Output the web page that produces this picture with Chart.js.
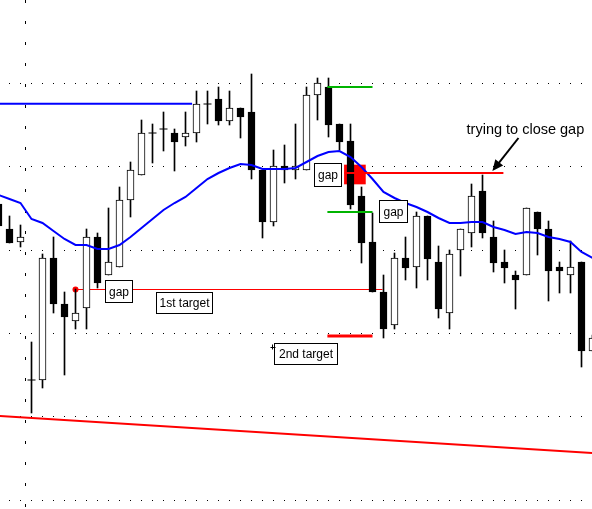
<!DOCTYPE html>
<html>
<head>
<meta charset="utf-8">
<title>gap chart</title>
<script src="https://cdn.jsdelivr.net/npm/chart.js@4"></script>
<style>
  html, body { margin: 0; padding: 0; background: #fff; }
  canvas { display: block; }
</style>
</head>
<body>
<canvas id="chart" width="592" height="509"></canvas>
<script>
// candles, left to right (the first and the last are cut by the edges)
const opens = [
  135.52, 132.52, 130.96, 114.40, 114.40, 129.04, 123.52, 121.48, 123.04, 131.56,
  127.00, 127.96, 136.00, 139.00, 144.04, 144.52, 144.04, 143.56, 144.04, 147.52,
  148.12, 145.48, 147.04, 146.56, 139.60, 133.36, 140.08, 139.60, 139.60, 148.60,
  149.56, 145.12, 143.08, 136.48, 130.96, 124.96, 121.00, 129.04, 127.96, 134.08,
  128.56, 122.44, 130.00, 132.04, 137.08, 131.56, 128.56, 127.00, 127.00, 134.56,
  132.52, 127.96, 127.00, 128.56, 117.88
];
const highs = [
  136.00, 134.08, 133.00, 118.96, 129.52, 131.56, 124.96, 125.32, 132.52, 132.04,
  135.04, 137.56, 140.56, 145.60, 145.12, 146.56, 144.52, 146.56, 149.08, 149.08,
  149.56, 149.08, 147.04, 151.12, 139.60, 142.00, 142.60, 145.12, 149.56, 150.64,
  150.64, 145.12, 145.12, 137.56, 134.44, 127.00, 129.64, 131.56, 134.56, 134.08,
  130.48, 130.00, 132.52, 137.92, 139.00, 133.48, 130.00, 127.48, 135.04, 134.56,
  133.48, 128.56, 131.08, 128.56, 119.80
];
const lows = [
  132.64, 130.84, 130.36, 110.44, 113.44, 122.44, 115.00, 120.52, 120.52, 125.44,
  127.00, 127.96, 133.96, 139.00, 140.44, 141.88, 139.48, 142.48, 142.96, 145.12,
  145.00, 145.00, 143.44, 138.52, 131.44, 132.88, 138.04, 138.52, 139.60, 145.60,
  143.56, 142.00, 134.92, 128.44, 124.96, 119.44, 120.52, 126.40, 125.44, 126.40,
  121.84, 120.52, 126.88, 130.36, 131.44, 127.36, 126.04, 122.92, 127.00, 129.40,
  123.88, 124.84, 124.84, 115.96, 117.88
];
const closes = [
  132.88, 130.84, 131.56, 114.40, 129.04, 123.52, 121.96, 122.44, 131.56, 126.04,
  128.56, 136.00, 139.60, 144.04, 144.04, 144.52, 142.96, 144.04, 147.52, 147.52,
  145.48, 147.04, 145.96, 139.60, 133.36, 140.08, 139.60, 140.08, 148.60, 150.04,
  145.00, 142.96, 135.40, 130.84, 124.96, 120.52, 129.04, 127.84, 134.08, 128.92,
  122.92, 129.52, 132.52, 136.48, 132.04, 128.44, 127.84, 126.40, 135.04, 132.52,
  127.48, 127.48, 127.96, 117.88, 119.44
];
// moving average (blue)
const movingAvg = [
  136.60, 136.12, 135.64, 133.72, 133.24, 132.28, 131.32, 130.60, 130.60, 130.12,
  130.12, 130.60, 131.56, 132.64, 133.72, 134.80, 135.64, 136.36, 137.44, 138.52,
  139.24, 139.84, 140.32, 140.20, 139.72, 139.72, 139.72, 139.84, 140.56, 141.28,
  141.76, 141.88, 141.16, 139.96, 138.52, 136.96, 136.24, 135.64, 135.16, 134.56,
  133.84, 133.24, 133.24, 133.36, 133.36, 132.76, 132.40, 131.92, 132.16, 132.04,
  131.56, 131.32, 130.96, 129.76, 129.04
];
const barIndex = opens.map((_, i) => i - 1);

// levels: [from bar, to bar, price]
const oldLevel = [-1, 16.6, 147.56];
const firstTarget = [6, 33.9, 125.26];
const secondTarget = [28.9, 33.0, 119.68];
const gapClose = [30.45, 44.9, 139.24];
const greenTop = [28.9, 33.0, 149.56];
const greenBottom = [28.9, 33.0, 134.56];
const trendStart = [-1, 110.08];
const trendEnd = [53, 105.63];
const gapZone = [31.4, 137.92, 140.2];

const gridPrices = [100, 110, 120, 130, 140, 150];
const gridBars = [1.43];

const boxes = [
  { text: 'gap', x0: 8.64, x1: 11.18, top: 126.4, bottom: 123.76 },
  { text: '1st target', x0: 13.36, x1: 18.45, top: 124.96, bottom: 122.44 },
  { text: '2nd target', x0: 24.09, x1: 29.73, top: 118.84, bottom: 116.32 },
  { text: 'gap', x0: 27.64, x1: 30.18, top: 140.44, bottom: 137.68 },
  { text: 'gap', x0: 33.55, x1: 36.18, top: 136.0, bottom: 133.36 }
];

const seg = (a) => [{ x: a[0], y: a[2] }, { x: a[1], y: a[2] }];
const up = closes.map((c, i) => c >= opens[i]);
const dojis = barIndex.filter((k, i) => opens[i] === closes[i]).map(k => ({ x: k, y: opens[k + 1] }));

const notes = {
  id: 'notes',
  afterDatasetsDraw(chart) {
    const { ctx, scales: { x, y } } = chart;
    const px = v => Math.round(x.getPixelForValue(v)) + 0.5;
    const py = v => Math.round(y.getPixelForValue(v)) + 0.5;
    ctx.save();
    ctx.font = '12px "Liberation Sans", Arial, sans-serif';
    ctx.textAlign = 'center';
    ctx.textBaseline = 'middle';
    boxes.forEach(b => {
      const l = px(b.x0), r = px(b.x1), t = py(b.top), bt = py(b.bottom);
      ctx.fillStyle = '#fff';
      ctx.fillRect(l, t, r - l, bt - t);
      ctx.strokeStyle = '#000';
      ctx.lineWidth = 1;
      ctx.strokeRect(l, t, r - l, bt - t);
      ctx.fillStyle = '#000';
      ctx.fillText(b.text, (l + r) / 2, (t + bt) / 2 + 1);
    });

    // small cross left of "2nd target"
    const cx = px(23.82), cy = py(118.36);
    ctx.beginPath();
    ctx.moveTo(cx - 2, cy); ctx.lineTo(cx + 3, cy);
    ctx.moveTo(cx, cy - 3); ctx.lineTo(cx, cy + 2);
    ctx.stroke();

    ctx.font = '14.5px "Liberation Sans", Arial, sans-serif';
    ctx.textAlign = 'left';
    ctx.fillText('trying to close gap', x.getPixelForValue(41.55), y.getPixelForValue(144.4));

    // arrow
    const x1 = x.getPixelForValue(46.27), y1 = y.getPixelForValue(143.44);
    const x2 = x.getPixelForValue(43.9), y2 = y.getPixelForValue(139.48);
    const ang = Math.atan2(y2 - y1, x2 - x1);
    ctx.lineWidth = 2;
    ctx.beginPath();
    ctx.moveTo(x1, y1);
    ctx.lineTo(x2 - 6 * Math.cos(ang), y2 - 6 * Math.sin(ang));
    ctx.stroke();
    ctx.beginPath();
    ctx.moveTo(x2, y2);
    ctx.lineTo(x2 - 11 * Math.cos(ang) + 5 * Math.sin(ang), y2 - 11 * Math.sin(ang) - 5 * Math.cos(ang));
    ctx.lineTo(x2 - 11 * Math.cos(ang) - 5 * Math.sin(ang), y2 - 11 * Math.sin(ang) + 5 * Math.cos(ang));
    ctx.closePath();
    ctx.fill();
    ctx.restore();
  }
};

const line = (data, color, width, order) => ({
  type: 'line', data, borderColor: color, borderWidth: width,
  pointRadius: 0, tension: 0, order
});

new Chart(document.getElementById('chart'), {
  type: 'bar',
  data: {
    datasets: [
      {
        data: [{ x: gapZone[0], y: [gapZone[1], gapZone[2]] }],
        backgroundColor: '#ff0000', barThickness: 21, grouped: false, order: 10
      },
      Object.assign(line(seg(firstTarget), '#ff0000', 1, 9), {
        pointRadius: [3, 0], pointBackgroundColor: '#ff0000', pointBorderWidth: 0
      }),
      {
        data: barIndex.map((k, i) => ({ x: k, y: [lows[i], highs[i]] })),
        backgroundColor: '#000', barThickness: 1, grouped: false, order: 8
      },
      {
        data: barIndex.map((k, i) => ({ x: k, y: [opens[i], closes[i]] })),
        backgroundColor: up.map(u => u ? '#fff' : '#000'),
        borderColor: '#000', borderWidth: 1, borderSkipped: false,
        barThickness: 7, grouped: false, order: 7
      },
      {
        type: 'line', data: dojis, showLine: false, pointStyle: 'line',
        pointRadius: 4, borderColor: '#000', borderWidth: 1, order: 6
      },
      line(barIndex.map((k, i) => ({ x: k, y: movingAvg[i] })), '#0000ff', 2, 5),
      line(seg(oldLevel), '#0000ff', 2, 4),
      line([{ x: trendStart[0], y: trendStart[1] }, { x: trendEnd[0], y: trendEnd[1] }], '#ff0000', 2, 4),
      line(seg(gapClose), '#ff0000', 2, 4),
      line(seg(secondTarget), '#ff0000', 3, 3),
      line(seg(greenTop), '#00b400', 2, 3),
      line(seg(greenBottom), '#00b400', 2, 3)
    ]
  },
  options: {
    responsive: false,
    animation: false,
    layout: { padding: 0, autoPadding: false },
    plugins: { legend: { display: false }, tooltip: { enabled: false } },
    scales: {
      x: {
        type: 'linear', min: -9.5 / 11, max: 582.5 / 11, offset: false,
        afterBuildTicks: ax => { ax.ticks = gridBars.map(v => ({ value: v })); },
        ticks: { display: false },
        grid: { offset: false, drawTicks: false, color: '#000', lineWidth: 1 },
        border: { display: false, dash: [3, 18] }
      },
      y: {
        min: 98.92, max: 160,
        afterBuildTicks: ax => { ax.ticks = gridPrices.map(v => ({ value: v })); },
        ticks: { display: false },
        grid: { drawTicks: false, color: '#000', lineWidth: 1 },
        border: { display: false, dash: [1, 10], dashOffset: 2 }
      }
    }
  },
  plugins: [notes]
});
</script>
</body>
</html>
